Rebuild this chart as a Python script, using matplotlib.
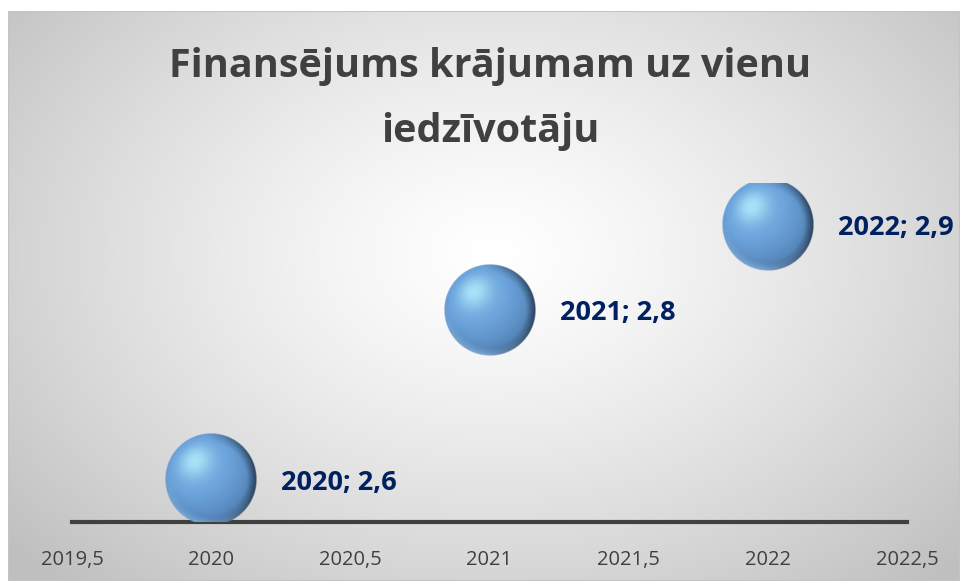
import numpy as np
import matplotlib
matplotlib.use('Agg')
import matplotlib.pyplot as plt
from matplotlib.patches import Rectangle

# Data
years = [2020, 2021, 2022]
values = [2.6, 2.8, 2.9]
labels = ['2020; 2,6', '2021; 2,8', '2022; 2,9']
x_ticks = [2019.5, 2020, 2020.5, 2021, 2021.5, 2022, 2022.5]
x_tick_labels = ['2019,5', '2020', '2020,5', '2021', '2021,5', '2022', '2022,5']
title = 'Finansējums krājumam uz vienu\niedzīvotāju'

plt.rcParams['font.family'] = ['Open Sans', 'DejaVu Sans']

W, H = 960, 581
fig = plt.figure(figsize=(W / 100, H / 100), dpi=100)
fig.patch.set_facecolor('white')


def sphere_image(n=240):
    # shaded blue ball with a highlight in the upper left
    t = np.linspace(-1, 1, n)
    u, v = np.meshgrid(t, -t)
    r = np.sqrt(u ** 2 + v ** 2)
    z = np.sqrt(np.clip(1 - r ** 2, 0, 1))
    light = np.array([-0.35, 0.4, 0.85])
    light = light / np.linalg.norm(light)
    diff = np.clip(u * light[0] + v * light[1] + z * light[2], 0, 1)
    spec = diff ** 12
    base = np.array([0.42, 0.64, 0.86])
    dark = np.array([0.32, 0.50, 0.70])
    col = dark + (base - dark) * np.clip(diff * 1.3, 0, 1)[..., None]
    col = col + spec[..., None] * (np.array([0.72, 0.95, 1.0]) - col) * 0.8
    # lighter rim at the bottom and left
    rim = np.clip((r - 0.82) / 0.18, 0, 1) * np.clip(-v - 0.2 * u, 0, 1)
    col = col + rim[..., None] * (np.array([0.62, 0.78, 0.92]) - col) * 0.6
    # dark right edge
    edge = np.clip((r - 0.78) / 0.22, 0, 1) * np.clip(u + 0.1, 0, 1)
    col = col * (1 - 0.5 * edge[..., None])
    alpha = np.clip((1 - r) * n / 3, 0, 1)
    return np.dstack([np.clip(col, 0, 1), alpha])


# background with radial gradient
bg = fig.add_axes([8 / W, 0, 1 - 8 / W, 1 - 11 / H])
gx, gy = np.meshgrid(np.linspace(-1, 1, 400), np.linspace(-1, 1, 300))
rr = np.sqrt((gx - 0.02) ** 2 + ((gy + 0.15) * 0.85) ** 2)
shade = 1 - 0.25 * np.clip(rr / 1.35, 0, 1) ** 1.3
bg.imshow(np.dstack([shade] * 3), aspect='auto', extent=[0, 1, 0, 1], origin='upper')
bg.set_xlim(0, 1)
bg.set_ylim(0, 1)
bg.axis('off')
bg.add_patch(Rectangle((0, 0), 1, 1, transform=bg.transAxes, fill=False,
                       edgecolor='#c4c4c4', linewidth=1.5))

ax = fig.add_axes([72 / W, 59 / H, 835 / W, 339 / H])
ax.patch.set_alpha(0)
ax.set_xlim(2019.5, 2022.5)
ax.set_ylim(2.55, 2.95)

# bubble size in data units from a pixel radius
rad_px = 46
p0 = ax.transData.transform((2020, 2.6))
p1 = ax.transData.inverted().transform((p0[0] + rad_px, p0[1] + rad_px))
dx, dy = p1[0] - 2020, p1[1] - 2.6

img = sphere_image()
for xv, yv, lab in zip(years, values, labels):
    ax.imshow(img, extent=[xv - dx, xv + dx, yv - dy, yv + dy], aspect='auto',
              zorder=3, interpolation='bilinear')
    ax.annotate(lab, (xv, yv), xytext=(70, -3), textcoords='offset pixels',
                ha='left', va='center', fontsize=19.5, fontweight='bold',
                color='#002060', annotation_clip=False, zorder=4)

ax.set_xlim(2019.5, 2022.5)
ax.set_ylim(2.55, 2.95)
ax.set_xticks(x_ticks)
ax.set_xticklabels(x_tick_labels, fontsize=14.5, color='#404040')
ax.tick_params(axis='x', length=0, pad=20)
ax.set_yticks([])
for s in ['top', 'right', 'left']:
    ax.spines[s].set_visible(False)
ax.spines['bottom'].set_color('#404040')
ax.spines['bottom'].set_linewidth(3)
ax.spines['bottom'].set_zorder(2)

fig.text(490 / W, 1 - 99 / H, title, ha='center', va='center', fontsize=28.5,
         fontweight='bold', color='#404040', linespacing=1.85)

fig.savefig('out.png', dpi=100)
